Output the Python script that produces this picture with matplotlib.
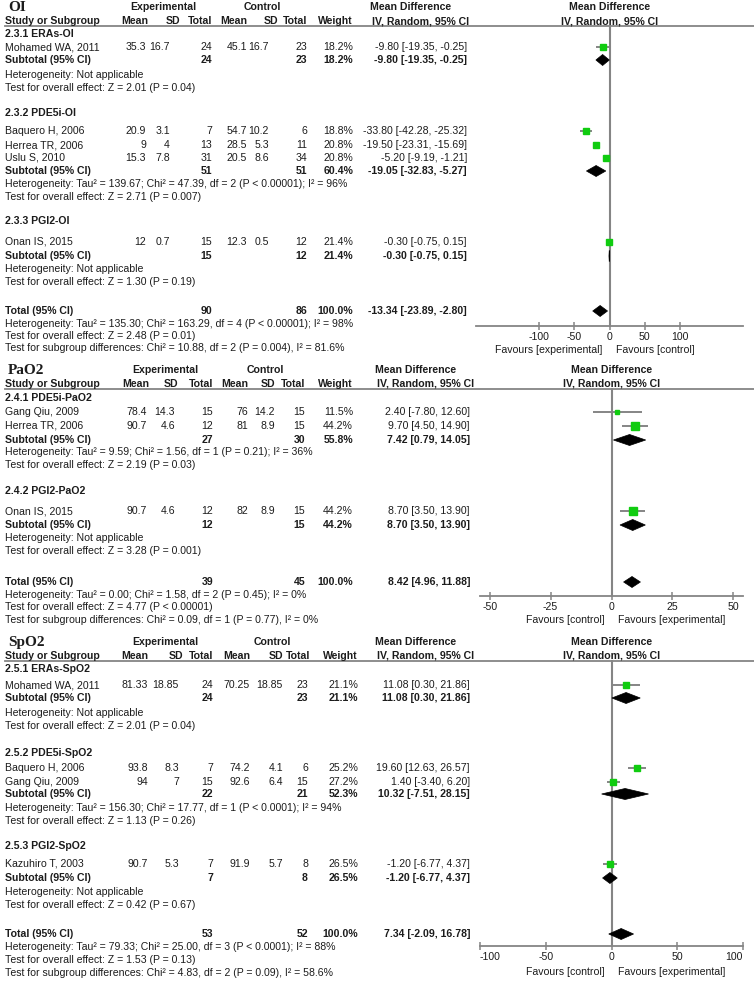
import math
import matplotlib
matplotlib.use('Agg')
import matplotlib.pyplot as plt

W, H, DPI = 754, 984, 100
plt.rcParams['font.family'] = ['Liberation Sans', 'DejaVu Sans']

# ================= DATA =================
# ---- OI ----
oi_study = ['Mohamed WA, 2011', 'Baquero H, 2006', 'Herrea TR, 2006', 'Uslu S, 2010', 'Onan IS, 2015']
oi_group = [0, 1, 1, 1, 2]
oi_exp_mean = [35.3, 20.9, 9, 15.3, 12]
oi_exp_sd = [16.7, 3.1, 4, 7.8, 0.7]
oi_exp_n = [24, 7, 13, 31, 15]
oi_ctl_mean = [45.1, 54.7, 28.5, 20.5, 12.3]
oi_ctl_sd = [16.7, 10.2, 5.3, 8.6, 0.5]
oi_ctl_n = [23, 6, 11, 34, 12]
oi_weight = [18.2, 18.8, 20.8, 20.8, 21.4]
oi_md = [-9.80, -33.80, -19.50, -5.20, -0.30]
oi_lo = [-19.35, -42.28, -23.31, -9.19, -0.75]
oi_hi = [-0.25, -25.32, -15.69, -1.21, 0.15]
oi_sub_names = ['2.3.1 ERAs-OI', '2.3.2 PDE5i-OI', '2.3.3 PGI2-OI']
oi_sub_exp_n = [24, 51, 15]
oi_sub_ctl_n = [23, 51, 12]
oi_sub_weight = [18.2, 60.4, 21.4]
oi_sub_md = [-9.80, -19.05, -0.30]
oi_sub_lo = [-19.35, -32.83, -0.75]
oi_sub_hi = [-0.25, -5.27, 0.15]
oi_sub_het = ['Heterogeneity: Not applicable',
              'Heterogeneity: Tau\u00b2 = 139.67; Chi\u00b2 = 47.39, df = 2 (P < 0.00001); I\u00b2 = 96%',
              'Heterogeneity: Not applicable']
oi_sub_test = ['Test for overall effect: Z = 2.01 (P = 0.04)',
               'Test for overall effect: Z = 2.71 (P = 0.007)',
               'Test for overall effect: Z = 1.30 (P = 0.19)']
oi_total = [90, 86, 100.0, -13.34, -23.89, -2.80]
oi_total_text = ['Heterogeneity: Tau\u00b2 = 135.30; Chi\u00b2 = 163.29, df = 4 (P < 0.00001); I\u00b2 = 98%',
                 'Test for overall effect: Z = 2.48 (P = 0.01)',
                 'Test for subgroup differences: Chi\u00b2 = 10.88, df = 2 (P = 0.004), I\u00b2 = 81.6%']
oi_ticks = [-100, -50, 0, 50, 100]
oi_favours = ['Favours [experimental]', 'Favours [control]']

# ---- PaO2 ----
pa_study = ['Gang Qiu, 2009', 'Herrea TR, 2006', 'Onan IS, 2015']
pa_group = [0, 0, 1]
pa_exp_mean = [78.4, 90.7, 90.7]
pa_exp_sd = [14.3, 4.6, 4.6]
pa_exp_n = [15, 12, 12]
pa_ctl_mean = [76, 81, 82]
pa_ctl_sd = [14.2, 8.9, 8.9]
pa_ctl_n = [15, 15, 15]
pa_weight = [11.5, 44.2, 44.2]
pa_md = [2.40, 9.70, 8.70]
pa_lo = [-7.80, 4.50, 3.50]
pa_hi = [12.60, 14.90, 13.90]
pa_sub_names = ['2.4.1 PDE5i-PaO2', '2.4.2 PGI2-PaO2']
pa_sub_exp_n = [27, 12]
pa_sub_ctl_n = [30, 15]
pa_sub_weight = [55.8, 44.2]
pa_sub_md = [7.42, 8.70]
pa_sub_lo = [0.79, 3.50]
pa_sub_hi = [14.05, 13.90]
pa_sub_het = ['Heterogeneity: Tau\u00b2 = 9.59; Chi\u00b2 = 1.56, df = 1 (P = 0.21); I\u00b2 = 36%',
              'Heterogeneity: Not applicable']
pa_sub_test = ['Test for overall effect: Z = 2.19 (P = 0.03)',
               'Test for overall effect: Z = 3.28 (P = 0.001)']
pa_total = [39, 45, 100.0, 8.42, 4.96, 11.88]
pa_total_text = ['Heterogeneity: Tau\u00b2 = 0.00; Chi\u00b2 = 1.58, df = 2 (P = 0.45); I\u00b2 = 0%',
                 'Test for overall effect: Z = 4.77 (P < 0.00001)',
                 'Test for subgroup differences: Chi\u00b2 = 0.09, df = 1 (P = 0.77), I\u00b2 = 0%']
pa_ticks = [-50, -25, 0, 25, 50]
pa_favours = ['Favours [control]', 'Favours [experimental]']

# ---- SpO2 ----
sp_study = ['Mohamed WA, 2011', 'Baquero H, 2006', 'Gang Qiu, 2009', 'Kazuhiro T, 2003']
sp_group = [0, 1, 1, 2]
sp_exp_mean = [81.33, 93.8, 94, 90.7]
sp_exp_sd = [18.85, 8.3, 7, 5.3]
sp_exp_n = [24, 7, 15, 7]
sp_ctl_mean = [70.25, 74.2, 92.6, 91.9]
sp_ctl_sd = [18.85, 4.1, 6.4, 5.7]
sp_ctl_n = [23, 6, 15, 8]
sp_weight = [21.1, 25.2, 27.2, 26.5]
sp_md = [11.08, 19.60, 1.40, -1.20]
sp_lo = [0.30, 12.63, -3.40, -6.77]
sp_hi = [21.86, 26.57, 6.20, 4.37]
sp_sub_names = ['2.5.1 ERAs-SpO2', '2.5.2 PDE5i-SpO2', '2.5.3 PGI2-SpO2']
sp_sub_exp_n = [24, 22, 7]
sp_sub_ctl_n = [23, 21, 8]
sp_sub_weight = [21.1, 52.3, 26.5]
sp_sub_md = [11.08, 10.32, -1.20]
sp_sub_lo = [0.30, -7.51, -6.77]
sp_sub_hi = [21.86, 28.15, 4.37]
sp_sub_het = ['Heterogeneity: Not applicable',
              'Heterogeneity: Tau\u00b2 = 156.30; Chi\u00b2 = 17.77, df = 1 (P < 0.0001); I\u00b2 = 94%',
              'Heterogeneity: Not applicable']
sp_sub_test = ['Test for overall effect: Z = 2.01 (P = 0.04)',
               'Test for overall effect: Z = 1.13 (P = 0.26)',
               'Test for overall effect: Z = 0.42 (P = 0.67)']
sp_total = [53, 52, 100.0, 7.34, -2.09, 16.78]
sp_total_text = ['Heterogeneity: Tau\u00b2 = 79.33; Chi\u00b2 = 25.00, df = 3 (P < 0.0001); I\u00b2 = 88%',
                 'Test for overall effect: Z = 1.53 (P = 0.13)',
                 'Test for subgroup differences: Chi\u00b2 = 4.83, df = 2 (P = 0.09), I\u00b2 = 58.6%']
sp_ticks = [-100, -50, 0, 50, 100]
sp_favours = ['Favours [control]', 'Favours [experimental]']

# ================= LAYOUT (pixels) =================
L_oi = dict(h1=7, h2=21, line=26,
            grp_y=[34, 113, 221], study_y=[47, 131, 145, 158, 242],
            sub_y=[60, 171, 256], het_y=[75, 184, 269], test_y=[88, 197, 282],
            total_y=311, tot_y=[324, 336, 348], axis_y=326, fav_y=350,
            x0=476, x1=743, xlim=(-190, 190),
            cols=[146, 170, 212, 247, 269, 307, 353, 467],
            hcols=[148, 180, 212, 247, 278, 307, 353],
            exp_c=163, ctl_c=262, md_l=370)
L_pa = dict(h1=370, h2=384, line=389,
            grp_y=[398, 491], study_y=[412, 426, 511],
            sub_y=[440, 525], het_y=[452, 538], test_y=[465, 551],
            total_y=582, tot_y=[595, 607, 620], axis_y=596, fav_y=620,
            x0=480, x1=743, xlim=(-54, 54),
            cols=[147, 175, 213, 248, 275, 305, 353, 470],
            hcols=[149, 178, 213, 248, 275, 305, 353],
            exp_c=165, ctl_c=265, md_l=375)
L_sp = dict(h1=642, h2=656, line=661,
            grp_y=[669, 753, 846], study_y=[685, 768, 782, 864],
            sub_y=[698, 794, 878], het_y=[713, 808, 892], test_y=[726, 821, 905],
            total_y=934, tot_y=[947, 960, 973], axis_y=946, fav_y=972,
            x0=480, x1=743, xlim=(-100, 100),
            cols=[148, 179, 213, 250, 283, 308, 358, 470],
            hcols=[148, 183, 213, 250, 283, 310, 358],
            exp_c=165, ctl_c=272, md_l=375)

FS = 7.6
TC = '#1c1c1c'
GRAY = '#858585'
GREEN = '#10cc10'

fig = plt.figure(figsize=(W / DPI, H / DPI), dpi=DPI)
ax = fig.add_axes([0, 0, 1, 1])
ax.set_xlim(0, W)
ax.set_ylim(H, 0)
ax.axis('off')


def T(x, y, s, ha='left', bold=False, size=FS, family=None, va='center'):
    kw = {}
    if family:
        kw['family'] = family
    ax.text(x, y, s, ha=ha, va=va, fontsize=size,
            fontweight='bold' if bold else 'normal', color=TC, **kw)


def fmt(v):
    return f'{v:g}'


def ci(m, l, h):
    return f'{m:.2f} [{l:.2f}, {h:.2f}]'


def draw_panel(title, L, study, group, em, esd, en, cm, csd, cn, w, md, lo, hi,
               sub_names, sub_en, sub_cn, sub_w, sub_md, sub_lo, sub_hi,
               sub_het, sub_test, total, total_text, ticks, favours):
    x0, x1 = L['x0'], L['x1']
    xl = L['xlim']
    zero_px = x0 + (0 - xl[0]) / (xl[1] - xl[0]) * (x1 - x0)
    c = L['cols']

    # headers
    T(8, L['h2'] - 10, title, bold=True, size=11, va='baseline',
      family=['Liberation Serif', 'DejaVu Serif'])
    T(L['exp_c'], L['h1'], 'Experimental', ha='center', bold=True)
    T(L['ctl_c'], L['h1'], 'Control', ha='center', bold=True)
    T(L['md_l'], L['h1'], 'Mean Difference', bold=True)
    T(zero_px, L['h1'], 'Mean Difference', ha='center', bold=True)
    T(5, L['h2'], 'Study or Subgroup', bold=True)
    for x, s in zip(L['hcols'], ['Mean', 'SD', 'Total', 'Mean', 'SD', 'Total', 'Weight']):
        T(x, L['h2'], s, ha='right', bold=True)
    T(L['md_l'] + 2, L['h2'], 'IV, Random, 95% CI', bold=True)
    T(zero_px, L['h2'], 'IV, Random, 95% CI', ha='center', bold=True)
    ax.plot([5, W], [L['line'], L['line']], color=GRAY, lw=1.3)

    # forest axes
    fx = fig.add_axes([x0 / W, 0, (x1 - x0) / W, 1])
    fx.set_xlim(xl)
    fx.set_ylim(H, 0)
    fx.patch.set_alpha(0)
    for s in ['top', 'left', 'right']:
        fx.spines[s].set_visible(False)
    fx.spines['bottom'].set_position(('data', L['axis_y']))
    fx.spines['bottom'].set_color(GRAY)
    fx.spines['bottom'].set_linewidth(1.3)
    fx.set_yticks([])
    fx.set_xticks(ticks)
    fx.set_xticklabels([str(t) for t in ticks])
    fx.tick_params(axis='x', direction='inout', length=6, width=1.1, color=GRAY,
                   labelsize=FS, labelcolor=TC, pad=1.5)
    for t, lab in zip(ticks, fx.get_xticklabels()):
        if t <= xl[0]:
            lab.set_ha('left')
        elif t >= xl[1]:
            lab.set_ha('right')
    fx.plot([0, 0], [L['line'], L['axis_y']], color=GRAY, lw=1.5, zorder=1)

    # favours
    T(zero_px - 7, L['fav_y'], favours[0], ha='right')
    T(zero_px + 6, L['fav_y'], favours[1], ha='left')

    # subgroup titles
    for g, name in enumerate(sub_names):
        T(5, L['grp_y'][g], name, bold=True)

    # studies
    for i, st in enumerate(study):
        y = L['study_y'][i]
        T(5, y, st)
        vals = [fmt(em[i]), fmt(esd[i]), str(en[i]), fmt(cm[i]), fmt(csd[i]),
                str(cn[i]), f'{w[i]:.1f}%', ci(md[i], lo[i], hi[i])]
        for x, s in zip(c, vals):
            T(x, y, s, ha='right')
        fx.hlines(y, lo[i], hi[i], color=GRAY, lw=1.4, zorder=2)
        fx.plot([md[i]], [y], 's', ms=0.88 * math.sqrt(w[i]), color=GREEN,
                mec=GREEN, zorder=3)

    # subtotals
    hh = 5.5
    for g in range(len(sub_names)):
        y = L['sub_y'][g]
        T(5, y, 'Subtotal (95% CI)', bold=True)
        T(c[2], y, str(sub_en[g]), ha='right', bold=True)
        T(c[5], y, str(sub_cn[g]), ha='right', bold=True)
        T(c[6], y, f'{sub_w[g]:.1f}%', ha='right', bold=True)
        T(c[7], y, ci(sub_md[g], sub_lo[g], sub_hi[g]), ha='right', bold=True)
        fx.fill([sub_lo[g], sub_md[g], sub_hi[g], sub_md[g]],
                [y, y - hh, y, y + hh], facecolor='black', edgecolor='black',
                lw=0.5, zorder=3)
        T(5, L['het_y'][g], sub_het[g])
        T(5, L['test_y'][g], sub_test[g])

    # total
    y = L['total_y']
    T(5, y, 'Total (95% CI)', bold=True)
    T(c[2], y, str(total[0]), ha='right', bold=True)
    T(c[5], y, str(total[1]), ha='right', bold=True)
    T(c[6], y, f'{total[2]:.1f}%', ha='right', bold=True)
    T(c[7], y, ci(total[3], total[4], total[5]), ha='right', bold=True)
    fx.fill([total[4], total[3], total[5], total[3]],
            [y, y - hh, y, y + hh], facecolor='black', edgecolor='black',
            lw=0.5, zorder=3)
    for yy, s in zip(L['tot_y'], total_text):
        T(5, yy, s)


draw_panel('OI', L_oi, oi_study, oi_group, oi_exp_mean, oi_exp_sd, oi_exp_n,
           oi_ctl_mean, oi_ctl_sd, oi_ctl_n, oi_weight, oi_md, oi_lo, oi_hi,
           oi_sub_names, oi_sub_exp_n, oi_sub_ctl_n, oi_sub_weight, oi_sub_md,
           oi_sub_lo, oi_sub_hi, oi_sub_het, oi_sub_test, oi_total, oi_total_text,
           oi_ticks, oi_favours)
draw_panel('PaO2', L_pa, pa_study, pa_group, pa_exp_mean, pa_exp_sd, pa_exp_n,
           pa_ctl_mean, pa_ctl_sd, pa_ctl_n, pa_weight, pa_md, pa_lo, pa_hi,
           pa_sub_names, pa_sub_exp_n, pa_sub_ctl_n, pa_sub_weight, pa_sub_md,
           pa_sub_lo, pa_sub_hi, pa_sub_het, pa_sub_test, pa_total, pa_total_text,
           pa_ticks, pa_favours)
draw_panel('SpO2', L_sp, sp_study, sp_group, sp_exp_mean, sp_exp_sd, sp_exp_n,
           sp_ctl_mean, sp_ctl_sd, sp_ctl_n, sp_weight, sp_md, sp_lo, sp_hi,
           sp_sub_names, sp_sub_exp_n, sp_sub_ctl_n, sp_sub_weight, sp_sub_md,
           sp_sub_lo, sp_sub_hi, sp_sub_het, sp_sub_test, sp_total, sp_total_text,
           sp_ticks, sp_favours)

fig.savefig('out.png', dpi=DPI)
